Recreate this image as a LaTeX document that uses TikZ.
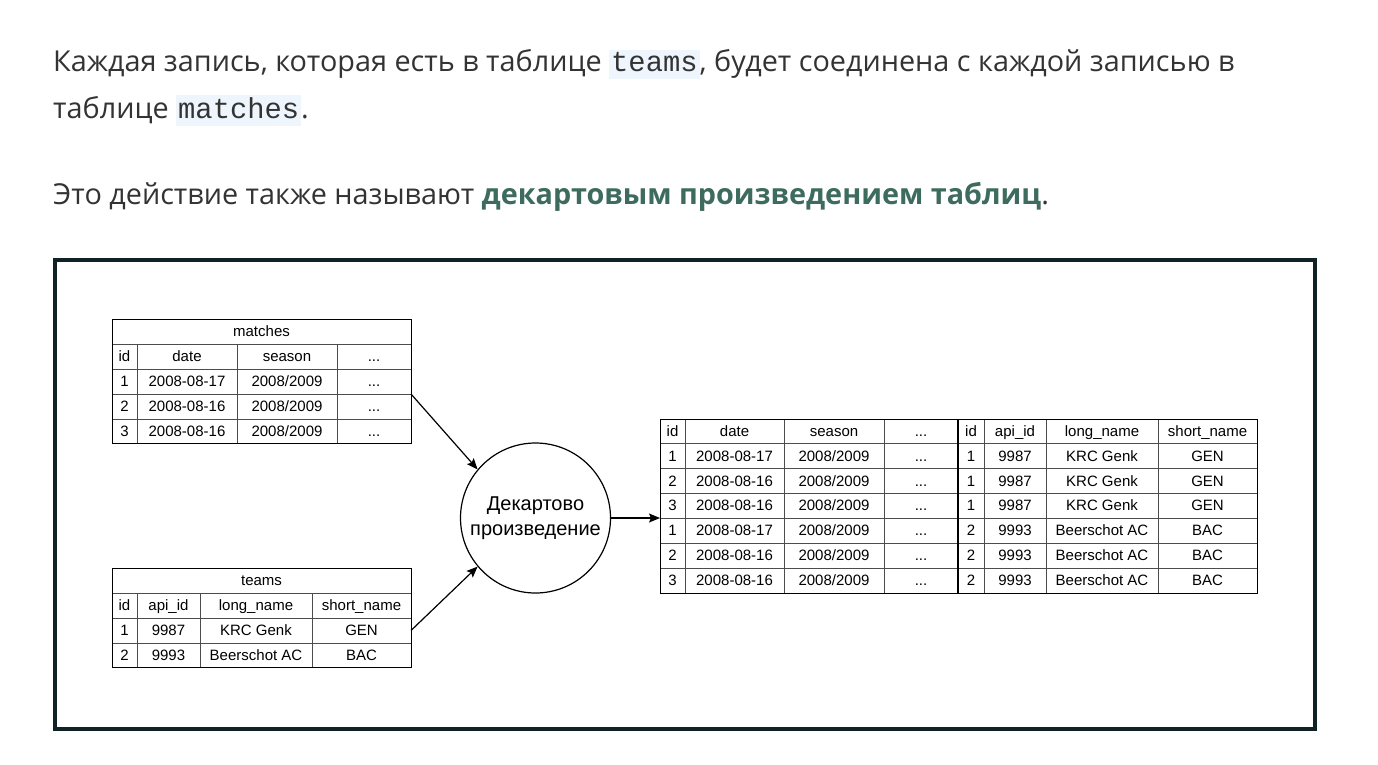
\documentclass[tikz,border=0pt]{standalone}
\usepackage{fontspec}
\setmainfont{Open Sans}
\setmonofont{Liberation Mono}
\newfontfamily\tablefont{Liberation Sans}
\usetikzlibrary{positioning,arrows.meta}
\definecolor{PageText}{RGB}{51,51,51}
\definecolor{TermGreen}{RGB}{61,107,93}
\definecolor{CodeBg}{RGB}{238,245,253}
\definecolor{FrameDark}{RGB}{15,35,39}
\newcommand\codeword[1]{{\setlength\fboxsep{2pt}\colorbox{CodeBg}{\ttfamily\vphantom{Xg}#1}}}
\newcommand\seasonval{2008/2009}
\newcommand\morecols{...}

\begin{document}
\begin{tikzpicture}[x=1pt,y=-1pt, every node/.style={font=\tablefont\fontsize{15}{18}\selectfont,inner sep=0pt,text height=12pt,text depth=2pt}, para/.style={anchor=base west,font=\fontsize{28.8}{34}\selectfont,text=PageText,text height=,text depth=}, grid/.style={draw=black!70,line width=0.8pt}, outline/.style={draw=black,line width=1.2pt,anchor=north west,text height=,text depth=}, arrow/.style={-{Stealth[length=11pt,width=9pt,inset=2pt]},line width=1.2pt}]
\useasboundingbox (0,0) rectangle (1378,764);
\fill[white] (0,0) rectangle (1378,764);
% page text
\node[para] (line1) at (53,71) {Каждая запись, которая есть в таблице \codeword{teams}, будет соединена с каждой записью в};
\node[para] (line2) at (53,118) {таблице \codeword{matches}.};
\node[para] (line3) at (53,204) {Это действие также называют \textbf{\textcolor{TermGreen}{декартовым произведением таблиц}}.};
\draw[FrameDark,line width=4pt] (55,260) rectangle (1315,729);

% matches table
\foreach \y in {344,369,394,419} \draw[grid] (112,\y) -- (411,\y);
\foreach \x in {137,237,337} \draw[grid] (\x,344) -- (\x,443);
\node[outline,minimum width=299pt,minimum height=124pt] (matches) at (112,319) {};
\node (m-title) at (261.5,331.5) {matches};
\foreach \y/\a/\b/\c/\d [count=\i] in {356.5/id/date/season/\morecols, 381.5/1/2008-08-17/\seasonval/\morecols, 406.5/2/2008-08-16/\seasonval/\morecols, 431/3/2008-08-16/\seasonval/\morecols} {
  \node (m-\i-1) at (124.5,\y) {\a};
  \node (m-\i-2) at (187,\y) {\b};
  \node (m-\i-3) at (287,\y) {\c};
  \node (m-\i-4) at (374,\y) {\d};
}

% teams table
\foreach \y in {593,618,643} \draw[grid] (112,\y) -- (411,\y);
\foreach \x in {137,200,312} \draw[grid] (\x,593) -- (\x,667);
\node[outline,minimum width=299pt,minimum height=99pt] (teams) at (112,568) {};
\node (t-title) at (261.5,580.5) {teams};
\foreach \y/\a/\b/\c/\d [count=\i] in {605.5/id/api\_id/long\_name/short\_name, 630.5/1/9987/KRC Genk/GEN, 655/2/9993/Beerschot AC/BAC} {
  \node (t-\i-1) at (124.5,\y) {\a};
  \node (t-\i-2) at (168.5,\y) {\b};
  \node (t-\i-3) at (256,\y) {\c};
  \node (t-\i-4) at (361.5,\y) {\d};
}

% operation
\node[circle,draw,line width=1.2pt,minimum size=150pt,align=center,text height=,text depth=,font=\tablefont\fontsize{20}{25}\selectfont] (cart) at (535.5,518) {Декартово\\произведение};

% result table
\foreach \k in {1,...,6} \draw[grid] (660,419+24.86*\k) -- (1257,419+24.86*\k);
\foreach \x in {685,784,884,984,1046,1158} \draw[grid] (\x,419) -- (\x,593);
\draw[black,line width=1.8pt] (958,419) -- (958,593);
\node[outline,minimum width=597pt,minimum height=174pt] (result) at (660,419) {};
\foreach \a/\b/\c/\d/\e/\f/\g/\h [count=\i from 0, evaluate=\i as \y using 431.4+24.86*\i] in {id/date/season/\morecols/id/api\_id/long\_name/short\_name, 1/2008-08-17/\seasonval/\morecols/1/9987/KRC Genk/GEN, 2/2008-08-16/\seasonval/\morecols/1/9987/KRC Genk/GEN, 3/2008-08-16/\seasonval/\morecols/1/9987/KRC Genk/GEN, 1/2008-08-17/\seasonval/\morecols/2/9993/Beerschot AC/BAC, 2/2008-08-16/\seasonval/\morecols/2/9993/Beerschot AC/BAC, 3/2008-08-16/\seasonval/\morecols/2/9993/Beerschot AC/BAC} {
  \node (r-\i-1) at (672.5,\y) {\a};
  \node (r-\i-2) at (734.5,\y) {\b};
  \node (r-\i-3) at (834,\y) {\c};
  \node (r-\i-4) at (921,\y) {\d};
  \node (r-\i-5) at (971,\y) {\e};
  \node (r-\i-6) at (1015,\y) {\f};
  \node (r-\i-7) at (1102,\y) {\g};
  \node (r-\i-8) at (1207.5,\y) {\h};
}

% connectors
\coordinate (m-out) at (411,394);
\coordinate (t-out) at (411,630.5);
\draw[arrow] (m-out) -- (cart.140);
\draw[arrow] (t-out) -- (cart.220);
\draw[arrow] (cart.east) -- (cart.east -| result.west);
\end{tikzpicture}
\end{document}
